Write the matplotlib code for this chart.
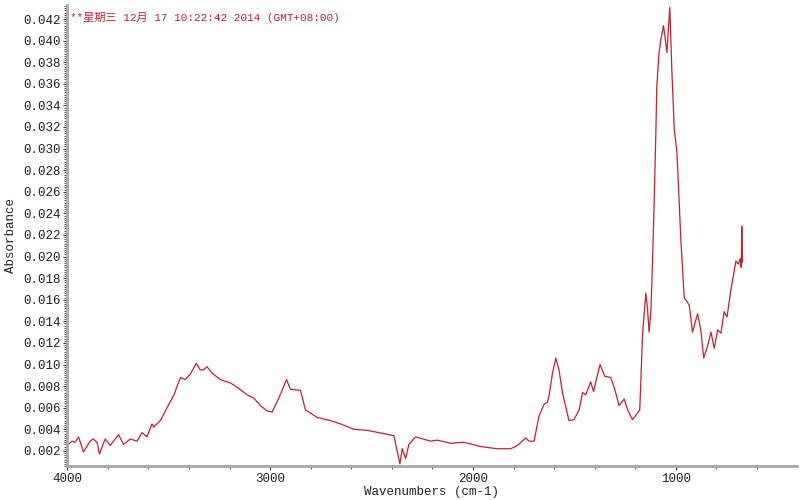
import numpy as np
import matplotlib.pyplot as plt
from matplotlib.ticker import MultipleLocator, FormatStrFormatter

plt.rcParams['font.family'] = ['Liberation Mono', 'Noto Sans CJK SC', 'DejaVu Sans']

# spectrum (wavenumber, absorbance)
wavenumber = [4000, 3977, 3961, 3944, 3920, 3887, 3872, 3853, 3841, 3813, 3788,
              3747, 3722, 3689, 3656, 3631, 3607, 3582, 3574, 3541, 3508, 3476,
              3442, 3418, 3393, 3364, 3344, 3328, 3311, 3286, 3245, 3196, 3163,
              3113, 3081, 3048, 3015, 2990, 2957, 2919, 2900, 2850, 2826, 2768,
              2702, 2653, 2587, 2521, 2439, 2390, 2373, 2360, 2349, 2332, 2316,
              2283, 2209, 2176, 2110, 2045, 1962, 1880, 1814, 1781, 1740, 1724,
              1699, 1675, 1650, 1633, 1625, 1609, 1592, 1576, 1559, 1527, 1502,
              1477, 1460, 1444, 1420, 1406, 1374, 1350, 1321, 1301, 1280, 1255,
              1238, 1214, 1189, 1178, 1164, 1148, 1140, 1132, 1123, 1115, 1107,
              1099, 1094, 1083, 1074, 1061, 1044, 1030, 1020, 1008, 995, 984,
              975, 959, 934, 918, 893, 877, 863, 844, 827, 811, 794, 778, 762,
              748, 729, 712, 704, 693, 683, 678, 675, 672]
absorbance = [0.0025, 0.0029, 0.0028, 0.0033, 0.0019, 0.0029, 0.0031, 0.0028, 0.0017,
              0.0031, 0.0025, 0.0035, 0.0026, 0.0031, 0.0029, 0.0037, 0.0033, 0.0045,
              0.0042, 0.0048, 0.0060, 0.0071, 0.0088, 0.0086, 0.0091, 0.0101, 0.0095,
              0.0095, 0.0098, 0.0092, 0.0086, 0.0083, 0.0079, 0.0072, 0.0069, 0.0062,
              0.0057, 0.0056, 0.0069, 0.0086, 0.0077, 0.0076, 0.0058, 0.0051, 0.0048,
              0.0045, 0.0040, 0.0039, 0.0036, 0.0034, 0.0019, 0.0008, 0.0022, 0.0013,
              0.0026, 0.0033, 0.0029, 0.0030, 0.0027, 0.0028, 0.0024, 0.0022, 0.0022,
              0.0025, 0.0032, 0.0029, 0.0029, 0.0052, 0.0063, 0.0065, 0.0071, 0.0091,
              0.0106, 0.0095, 0.0074, 0.0048, 0.0049, 0.0058, 0.0074, 0.0072, 0.0084,
              0.0075, 0.0100, 0.0089, 0.0088, 0.0077, 0.0062, 0.0068, 0.0058, 0.0049,
              0.0055, 0.0058, 0.0129, 0.0166, 0.0152, 0.0130, 0.0150, 0.0196, 0.0251,
              0.0312, 0.0358, 0.0389, 0.0401, 0.0414, 0.0389, 0.0431, 0.0373, 0.0318,
              0.0297, 0.0251, 0.0214, 0.0162, 0.0155, 0.0130, 0.0147, 0.0132, 0.0106,
              0.0117, 0.0130, 0.0115, 0.0132, 0.0129, 0.0149, 0.0144, 0.0169, 0.0187,
              0.0196, 0.0193, 0.0198, 0.0190, 0.0228, 0.0195]

title = "**星期三 12月 17 10:22:42 2014 (GMT+08:00)"

fig = plt.figure(figsize=(8, 5), dpi=100)
ax = fig.add_axes([0.084, 0.068, 0.912, 0.922])

ax.plot(wavenumber, absorbance, color="#c8202c", linewidth=0.9)

ax.set_xlim(4000, 404)
ax.set_ylim(0.0006, 0.0433)

ax.xaxis.set_major_locator(MultipleLocator(1000))
ax.xaxis.set_minor_locator(MultipleLocator(200))
ax.yaxis.set_major_locator(MultipleLocator(0.002))
ax.yaxis.set_minor_locator(MultipleLocator(0.0002))
ax.yaxis.set_major_formatter(FormatStrFormatter("%.3f"))

for s in ["top", "right"]:
    ax.spines[s].set_visible(False)
for s in ["left", "bottom"]:
    ax.spines[s].set_color("#a8a8a8")
    ax.spines[s].set_linewidth(2)

ax.tick_params(axis="both", which="major", direction="out", length=3,
               color="#333333", labelsize=9, labelcolor="#222222", pad=2)
ax.tick_params(axis="both", which="minor", direction="out", length=2,
               color="#333333")

ax.set_xlabel("Wavenumbers (cm-1)", fontsize=9, color="#222222", labelpad=1)
ax.set_ylabel("Absorbance", fontsize=9, color="#222222", labelpad=4)

ax.text(0.004, 0.985, title, transform=ax.transAxes, color="#c8202c",
        fontsize=8, va="top", ha="left",
        family=["Liberation Mono", "Noto Sans CJK SC"])

fig.savefig("out.png", dpi=100)
